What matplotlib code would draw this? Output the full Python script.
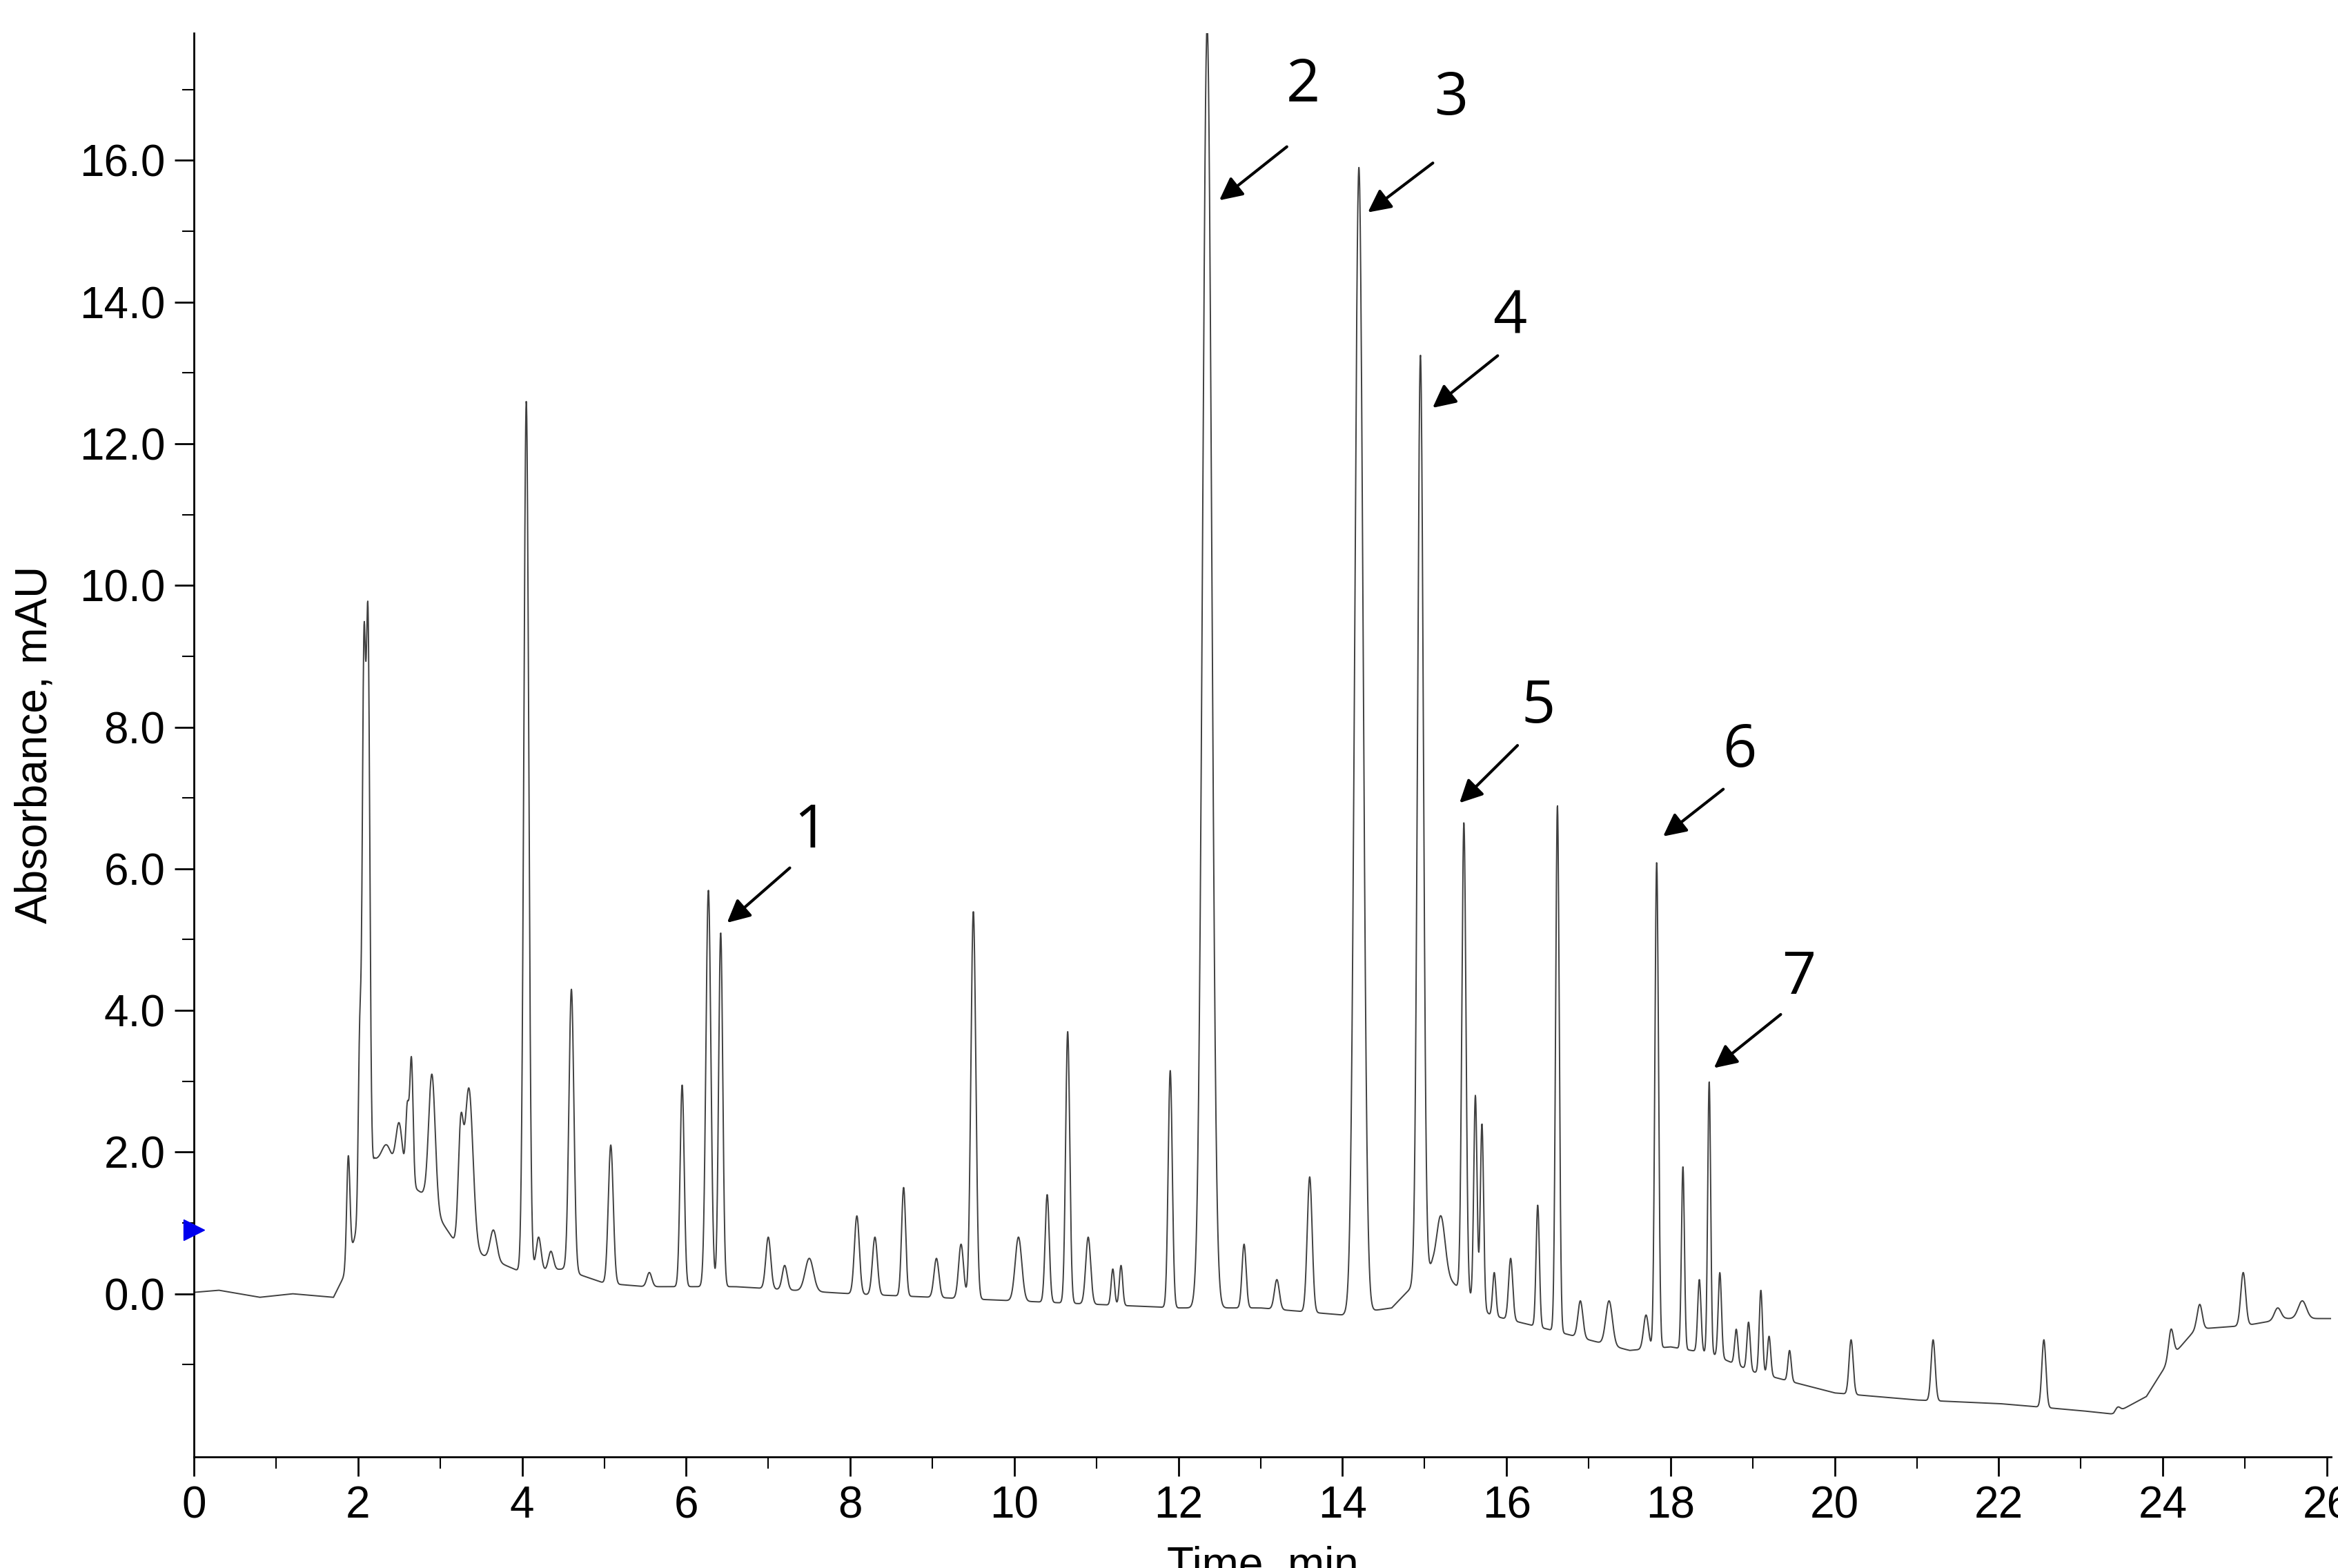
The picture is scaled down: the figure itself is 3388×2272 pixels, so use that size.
import numpy as np
import matplotlib
matplotlib.use("Agg")
import matplotlib.pyplot as plt
from matplotlib.ticker import MultipleLocator, FixedLocator

plt.rcParams['font.family'] = ['Liberation Sans', 'DejaVu Sans']

# baseline (time, mAU)
base_t = [0, 0.3, 0.8, 1.2, 1.7, 1.85, 2.2, 2.8, 3.2, 3.6, 4.0, 4.5, 5.0, 5.5, 6.6, 8.0, 9.0, 10.0, 11.0, 12.0, 13.0, 14.0, 14.6, 15.1, 15.8, 16.5, 17.0, 17.5, 18.0, 18.5, 19.0, 19.5, 20.0, 21.0, 22.0, 23.0, 23.4, 23.8, 24.1, 24.4, 25.0, 25.5, 26.1]
base_y = [0.02, 0.05, -0.05, 0.0, -0.05, 0.3, 1.9, 1.4, 0.7, 0.5, 0.3, 0.35, 0.15, 0.1, 0.1, 0.0, -0.05, -0.1, -0.15, -0.2, -0.2, -0.3, -0.2, 0.4, -0.3, -0.5, -0.65, -0.8, -0.75, -0.85, -1.1, -1.25, -1.4, -1.5, -1.55, -1.65, -1.7, -1.45, -0.9, -0.5, -0.45, -0.35, -0.35]

# peaks: retention time, apex absorbance (mAU), width (sigma, min)
peak_t = [1.88, 2.02, 2.07, 2.12, 2.35, 2.5, 2.6, 2.65, 2.9, 3.25, 3.35, 3.65, 4.05, 4.2, 4.35, 4.6, 5.08, 5.55, 5.95, 6.27, 6.42,
          7.0, 7.2, 7.5, 8.08, 8.3, 8.65, 9.05, 9.35, 9.5, 10.05, 10.4, 10.65, 10.9, 11.2, 11.3, 11.9, 12.35, 12.8, 13.2, 13.6,
          14.2, 14.95, 15.2, 15.48, 15.62, 15.7, 15.85, 16.05, 16.38, 16.62, 16.9, 17.25, 17.7, 17.83, 18.15, 18.35, 18.47,
          18.6, 18.8, 18.95, 19.1, 19.2, 19.45, 20.2, 21.2, 22.55, 23.45, 24.1, 24.45, 24.98, 25.4, 25.7]
peak_h = [1.95, 3.6, 8.7, 9.4, 2.1, 2.4, 2.6, 3.3, 3.1, 2.2, 2.9, 0.9, 12.6, 0.8, 0.6, 4.3, 2.1, 0.3, 2.95, 5.7, 5.1,
          0.8, 0.4, 0.5, 1.1, 0.8, 1.5, 0.5, 0.7, 5.4, 0.8, 1.4, 3.7, 0.8, 0.35, 0.4, 3.15, 17.9, 0.7, 0.2, 1.65,
          15.9, 13.25, 1.1, 6.65, 2.8, 2.4, 0.3, 0.5, 1.25, 6.9, -0.1, -0.1, -0.3, 6.1, 1.8, 0.2, 3.0,
          0.3, -0.5, -0.4, 0.05, -0.6, -0.8, -0.65, -0.65, -0.65, -1.6, -0.5, -0.15, 0.3, -0.2, -0.1]
peak_w = [0.02, 0.018, 0.02, 0.022, 0.06, 0.04, 0.02, 0.02, 0.04, 0.03, 0.05, 0.04, 0.03, 0.03, 0.03, 0.03, 0.03, 0.03, 0.025, 0.03, 0.025,
          0.03, 0.03, 0.05, 0.03, 0.03, 0.025, 0.03, 0.03, 0.03, 0.04, 0.025, 0.025, 0.03, 0.02, 0.02, 0.025, 0.055, 0.025, 0.03, 0.03,
          0.05, 0.035, 0.05, 0.025, 0.02, 0.02, 0.02, 0.025, 0.02, 0.022, 0.03, 0.04, 0.03, 0.022, 0.018, 0.02, 0.018,
          0.02, 0.02, 0.02, 0.02, 0.02, 0.02, 0.025, 0.025, 0.025, 0.03, 0.03, 0.03, 0.03, 0.04, 0.05]

labels = ['1', '2', '3', '4', '5', '6', '7']
label_xy = [(7.52, 6.52), (13.52, 17.05), (15.32, 16.86), (16.04, 13.78), (16.39, 8.28), (18.84, 7.66), (19.56, 4.45)]
arrow_tail = [(7.28, 6.03), (13.34, 16.21), (15.12, 15.98), (15.91, 13.26), (16.15, 7.76), (18.66, 7.14), (19.36, 3.96)]
arrow_head = [(6.48, 5.22), (12.48, 15.42), (14.29, 15.25), (15.08, 12.49), (15.41, 6.91), (17.89, 6.44), (18.51, 3.17)]

t = np.linspace(0, 26.1, 8000)
base = np.interp(t, base_t, base_y)
y = base.copy()
for pt, ph, pw in zip(peak_t, peak_h, peak_w):
    amp = ph - np.interp(pt, base_t, base_y)
    y += amp * np.exp(-0.5 * ((t - pt) / pw) ** 2)

fig = plt.figure(figsize=(33.88, 22.72), dpi=100)
ax = fig.add_axes([0.083, 0.071, 0.914, 0.908])
ax.plot(t, y, color='#404040', lw=1.4)
ax.set_xlim(0, 26.05)
ax.set_ylim(-2.3, 17.8)
for s in ['top', 'right']:
    ax.spines[s].set_visible(False)
for s in ['left', 'bottom']:
    ax.spines[s].set_linewidth(2)
ax.xaxis.set_major_locator(MultipleLocator(2))
ax.xaxis.set_minor_locator(MultipleLocator(1))
ax.yaxis.set_major_locator(FixedLocator(np.arange(0, 17, 2)))
ax.yaxis.set_minor_locator(FixedLocator(np.arange(-1, 18, 2)))
ax.yaxis.set_major_formatter(matplotlib.ticker.FormatStrFormatter('%.1f'))
ax.tick_params(which='major', length=20, width=2, labelsize=46, pad=10)
ax.tick_params(which='minor', length=12, width=1.5)
ax.set_ylabel('Absorbance, mAU', fontsize=46, labelpad=25)
fig.text(0.54, -0.012, 'Time, min', fontsize=46, ha='center', va='bottom')
ax.plot([0], [0.9], marker='>', color='#0000ee', markersize=22, clip_on=False, zorder=5)

for lab, (lx, ly), tail, head in zip(labels, label_xy, arrow_tail, arrow_head):
    ax.text(lx, ly, lab, fontsize=62, ha='center', va='center', family=['Open Sans', 'DejaVu Sans'])
    ax.annotate('', xy=head, xytext=tail,
                arrowprops=dict(arrowstyle='-|>', color='black', lw=3, mutation_scale=50))

fig.savefig('out.png', dpi=100)
